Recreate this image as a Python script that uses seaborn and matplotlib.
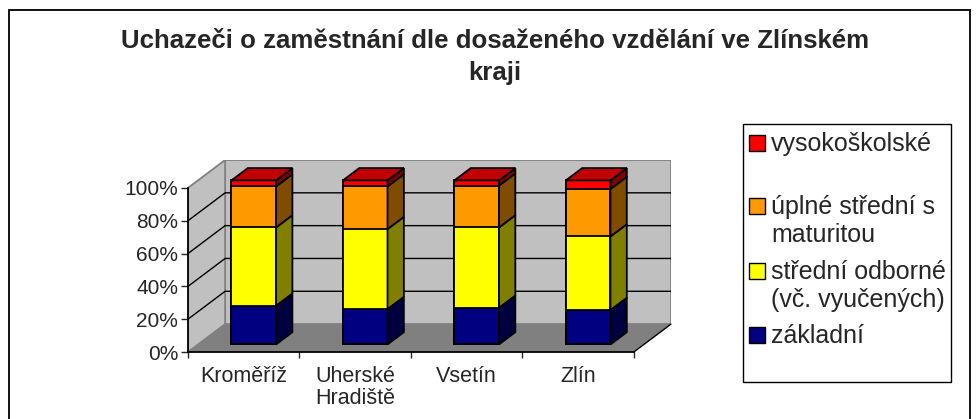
#Knihovny
import numpy as np
import matplotlib
matplotlib.use("Agg")
import matplotlib.pyplot as plt
from matplotlib.patches import Polygon, Rectangle
from matplotlib.transforms import Affine2D
import seaborn as sns

#Data (podíly v %)
kraje = ["Kroměříž", "Uherské\nHradiště", "Vsetín", "Zlín"]
zakladni = [23.6, 21.6, 22.4, 21.0]
stredni_odborne = [47.7, 48.7, 48.9, 44.8]
uplne_stredni = [25.0, 26.0, 25.5, 28.9]
vysokoskolske = [3.7, 3.7, 3.2, 5.3]

nazvy = ["základní", "střední odborné\n(vč. vyučených)", "úplné střední s\nmaturitou", "vysokoškolské"]
barvy = ["#000080", "#FFFF00", "#FF9900", "#FF0000"]
barvy_bok = ["#000040", "#808000", "#804C00", "#800000"]
barva_vrch = "#C00000"
osa_y = [0, 0.2, 0.4, 0.6, 0.8, 1.0]
popisky_y = ["0%", "20%", "40%", "60%", "80%", "100%"]

sns.set_style("white")
plt.rcParams['font.family'] = ['Liberation Sans', 'DejaVu Sans']

W, H = 978, 419
fig = plt.figure(figsize=(W / 100, H / 100), dpi=100)
ax = fig.add_axes([188 / W, (H - 352) / H, (671 - 188) / W, (352 - 160) / H])

#3D efekt - posun do hloubky
DX, DY = 0.333, 0.170
Z0, Z1 = 0.27, 0.71
sirka = 0.4

serie = np.array([zakladni, stredni_odborne, uplne_stredni, vysokoskolske]) / 100
kum = np.cumsum(serie, axis=0)

#Přední stěny sloupců (kumulativně odshora)
for k in reversed(range(len(serie))):
    sns.barplot(x=kraje, y=kum[k], color=barvy[k], saturation=1, width=sirka,
                edgecolor="black", linewidth=1.3, errorbar=None, ax=ax, zorder=3)

posun = Affine2D().translate(Z0 * DX, Z0 * DY)
for p in ax.patches:
    p.set_transform(posun + ax.transData)

#Boky a vršky sloupců
for i in range(len(kraje)):
    xl, xr = i - sirka / 2, i + sirka / 2
    dolni = 0
    for k in range(len(serie)):
        horni = kum[k][i]
        bok = [(xr + Z0 * DX, dolni + Z0 * DY), (xr + Z1 * DX, dolni + Z1 * DY),
               (xr + Z1 * DX, horni + Z1 * DY), (xr + Z0 * DX, horni + Z0 * DY)]
        ax.add_patch(Polygon(bok, closed=True, facecolor=barvy_bok[k], edgecolor="black",
                             linewidth=1.3, zorder=3))
        dolni = horni
    vrch = [(xl + Z0 * DX, dolni + Z0 * DY), (xr + Z0 * DX, dolni + Z0 * DY),
            (xr + Z1 * DX, dolni + Z1 * DY), (xl + Z1 * DX, dolni + Z1 * DY)]
    ax.add_patch(Polygon(vrch, closed=True, facecolor=barva_vrch, edgecolor="black",
                         linewidth=1.3, zorder=3))

#Stěny a podlaha
x0, x1 = -0.5, len(kraje) - 0.5
ax.add_patch(Polygon([(x0 + DX, DY), (x1 + DX, DY), (x1 + DX, 1 + DY), (x0 + DX, 1 + DY)],
                     closed=True, facecolor="#C0C0C0", edgecolor="#808080", linewidth=1.3, zorder=0.5))
ax.add_patch(Polygon([(x0, 0), (x0 + DX, DY), (x0 + DX, 1 + DY), (x0, 1)],
                     closed=True, facecolor="#C0C0C0", edgecolor="#808080", linewidth=1.3, zorder=0.5))
ax.add_patch(Polygon([(x0, 0), (x1, 0), (x1 + DX, DY), (x0 + DX, DY)],
                     closed=True, facecolor="#808080", edgecolor="none", zorder=0.6))
ax.plot([x1, x1 + DX], [0, DY], color="black", linewidth=1, zorder=1, clip_on=False)

#Mřížka
for yv in osa_y[1:-1]:
    ax.plot([x0, x0 + DX, x1 + DX], [yv, yv + DY, yv + DY], color="black", linewidth=1, zorder=1)

#Osy
ax.set_xlim(x0, x1 + DX)
ax.set_ylim(0, 1 + DY)
ax.patch.set_visible(False)
for s in ["top", "right"]:
    ax.spines[s].set_visible(False)
ax.spines["left"].set_bounds(0, 1)
ax.spines["bottom"].set_bounds(x0, x1)
for s in ["left", "bottom"]:
    ax.spines[s].set_color("black")
    ax.spines[s].set_linewidth(1.3)
    ax.spines[s].set_zorder(2)

ax.set_yticks(osa_y)
ax.set_yticklabels(popisky_y, fontsize=15)
ax.tick_params(axis="y", length=5, width=1, direction="out", pad=2, left=True)
ax.set_xticks(range(len(kraje)))
ax.set_xticklabels(kraje, fontsize=15.5)
ax.set_xticks(np.arange(x0, x1 + 0.01, 1), minor=True)
ax.tick_params(axis="x", which="major", length=0, pad=10)
ax.tick_params(axis="x", which="minor", length=4, width=1, direction="out", bottom=True)
for t in ax.get_xticklabels():
    t.set_linespacing(1.1)
    t.set_multialignment("center")
ax.set_xlabel("")
ax.set_ylabel("")

#Nadpis
fig.text(495 / W, 1 - 29 / H, "Uchazeči o zaměstnání dle dosaženého vzdělání ve Zlínském\nkraji",
         ha="center", va="top", fontsize=18.6, fontweight="bold", linespacing=1.4)

#Rámeček grafu
fig.patches.append(Rectangle((9 / W, -0.1), (970 - 9) / W, 1.1 - 10 / H, transform=fig.transFigure,
                             facecolor="none", edgecolor="black", linewidth=1.3))

#Legenda
fig.patches.append(Rectangle((743 / W, 1 - 382 / H), (951 - 743) / W, (382 - 124) / H,
                             transform=fig.transFigure, facecolor="white", edgecolor="black", linewidth=1))
leg_y = [335, 271, 206, 143]
for k in range(len(nazvy)):
    yc = leg_y[k]
    fig.patches.append(Rectangle((749 / W, 1 - (yc + 8) / H), 16 / W, 16 / H, transform=fig.transFigure,
                                 facecolor=barvy[k], edgecolor="black", linewidth=1))
    for j, radek in enumerate(nazvy[k].split("\n")):
        fig.text(771 / W, 1 - (yc + 8 + j * 28) / H, radek, ha="left", va="baseline", fontsize=18)

plt.savefig("out.png", dpi=100)
